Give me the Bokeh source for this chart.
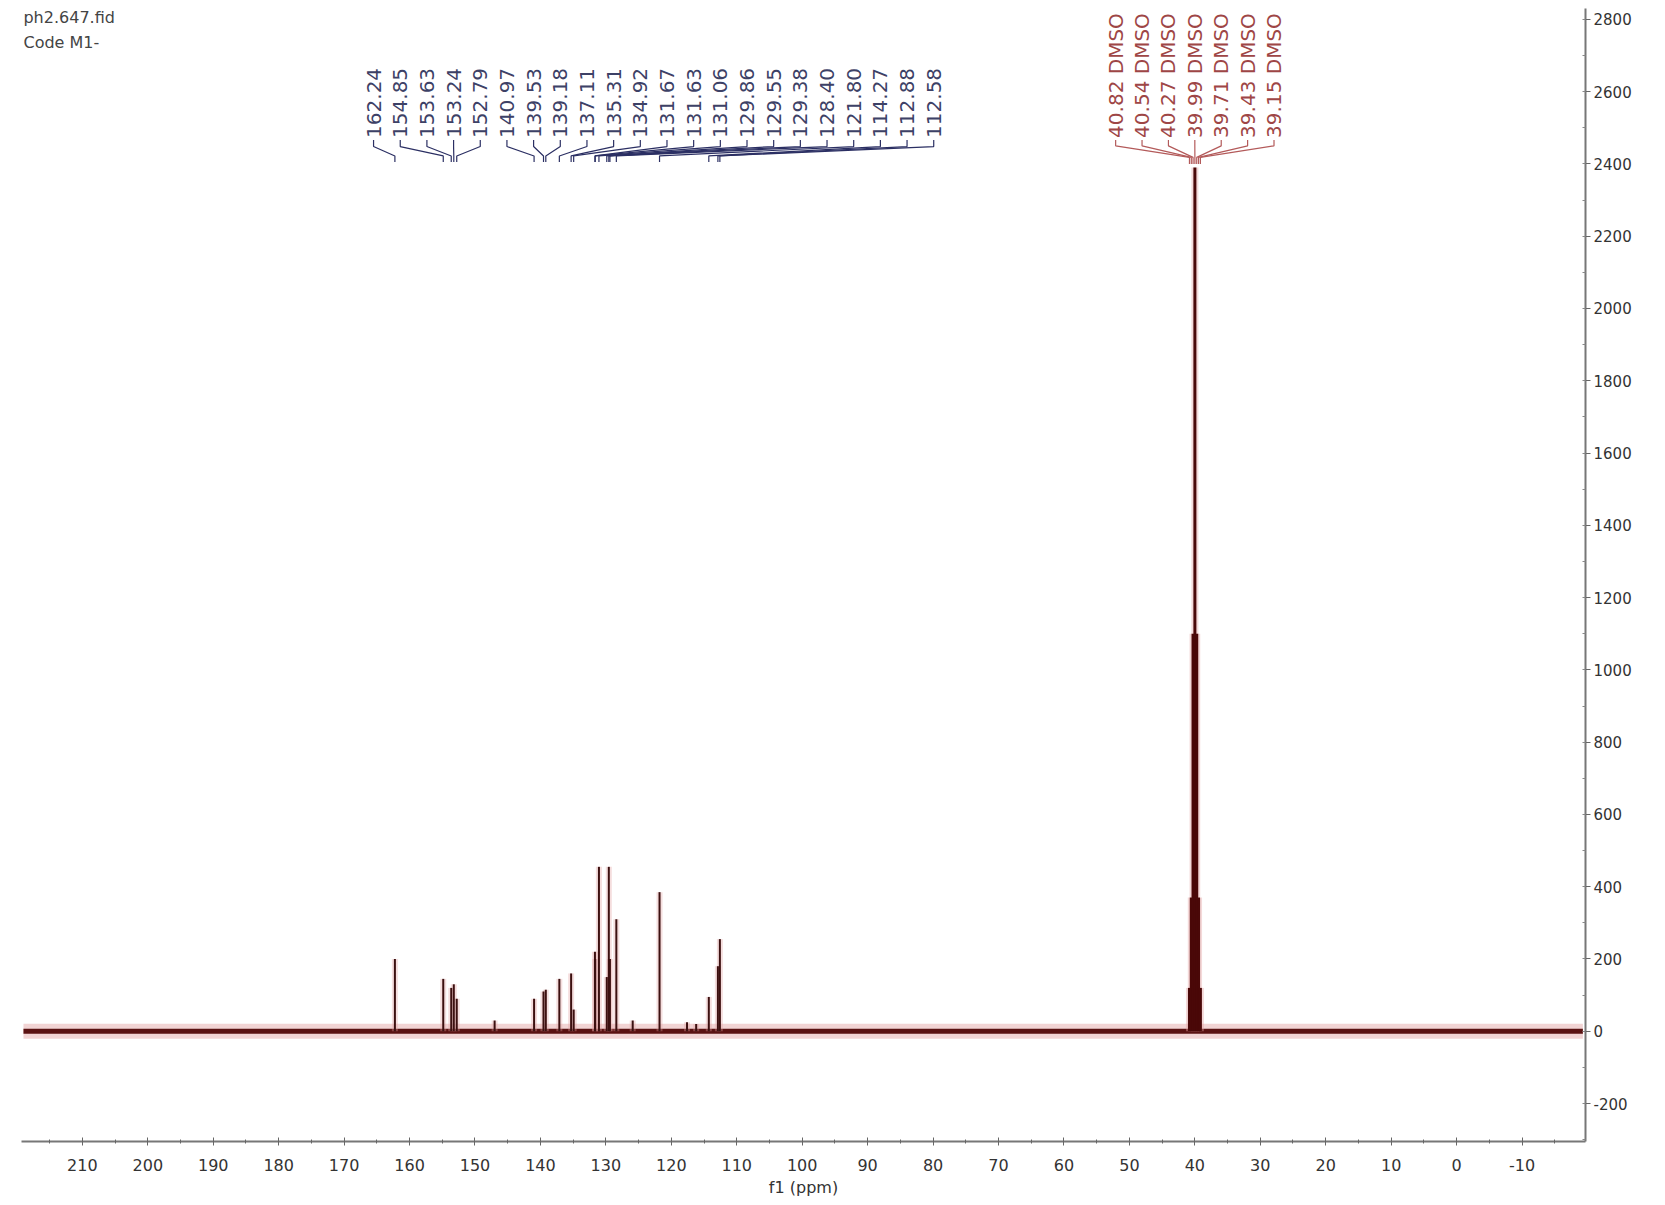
import numpy as np
from bokeh.plotting import figure
from bokeh.models import Range1d, SingleIntervalTicker, Label, ColumnDataSource, PrintfTickFormatter
from bokeh.core.properties import value
from bokeh.embed import file_html
from bokeh.resources import INLINE

# 13C spectrum (ppm, intensity)
arom_ppm = [162.24, 154.85, 153.63, 153.24, 152.79, 140.97, 139.53, 139.18,
            137.11, 135.31, 134.92, 131.67, 131.63, 131.06, 129.86, 129.55,
            129.38, 128.40, 121.80, 114.27, 112.88, 112.58]
arom_height = [200, 145, 120, 130, 90, 90, 110, 115,
               145, 160, 60, 220, 200, 455, 150, 455,
               200, 310, 385, 95, 180, 255]

# small unlabelled bumps
extra_ppm = [147.0, 125.9, 117.6, 116.2]
extra_height = [30, 30, 25, 20]

dmso_ppm = [40.82, 40.54, 40.27, 39.99, 39.71, 39.43, 39.15]
dmso_height = [120, 370, 1100, 2390, 1100, 370, 120]

baseline_ppm = [219.0, -19.3]
baseline_int = [0, 0]

FONT = "DejaVu Sans"

p = figure(width=1657, height=1201,
           x_range=Range1d(219.3, -19.7), y_range=Range1d(-305, 2830),
           y_axis_location="right", toolbar_location=None,
           output_backend="svg",
           min_border_left=21, min_border_right=72,
           min_border_top=8, min_border_bottom=60)
p.outline_line_color = None
p.xgrid.visible = False
p.ygrid.visible = False
p.background_fill_color = "white"

# spectrum: baseline band + peaks
p.line(baseline_ppm, baseline_int, line_color="#e3a0a0", line_width=15, line_alpha=0.45)
p.line(baseline_ppm, baseline_int, line_color="#5a1212", line_width=5)

peaks = ColumnDataSource(dict(x=arom_ppm + extra_ppm,
                              h=arom_height + extra_height,
                              z=[0] * (len(arom_ppm) + len(extra_ppm))))
p.segment(x0="x", y0="z", x1="x", y1="h", source=peaks,
          line_color="#e3a0a0", line_width=6, line_alpha=0.35)
p.segment(x0="x", y0="z", x1="x", y1="h", source=peaks,
          line_color="#3c1010", line_width=2)

dm = ColumnDataSource(dict(x=dmso_ppm, h=dmso_height, z=[0] * len(dmso_ppm)))
p.segment(x0="x", y0="z", x1="x", y1="h", source=dm,
          line_color="#e3a0a0", line_width=7, line_alpha=0.4)
p.segment(x0="x", y0="z", x1="x", y1="h", source=dm,
          line_color="#4a0808", line_width=3)

# peak labels with connectors
def peak_labels(ppms, texts, x_first, x_last, color, line_color, y_ends):
    slots = np.linspace(x_first, x_last, len(ppms))
    xs, ys = [], []
    for lx, px in zip(slots, ppms):
        xs.append([lx, lx, px, px])
        ys.append(y_ends)
    p.multi_line(xs, ys, line_color=line_color, line_width=1.2)
    p.text(x=list(slots), y=[2472] * len(ppms), text=texts, angle=np.pi / 2,
           text_align="left", text_baseline="middle",
           text_font=value(FONT), text_font_size="20px", text_color=color)

peak_labels(arom_ppm, ["%.2f" % v for v in arom_ppm], 165.5, 79.9,
            "#3d4166", "#2b2f63", [2466, 2448, 2422, 2405])
peak_labels(dmso_ppm, ["%.2f DMSO" % v for v in dmso_ppm], 52.1, 27.9,
            "#9e4646", "#b35a5a", [2466, 2450, 2418, 2400])

# file info in the corner
p.add_layout(Label(x=219.0, y=2805, text="ph2.647.fid", text_font=FONT,
                   text_font_size="16px", text_color="#444",
                   text_baseline="middle"))
p.add_layout(Label(x=219.0, y=2736, text="Code M1-", text_font=FONT,
                   text_font_size="16px", text_color="#444",
                   text_baseline="middle"))

# axes
xa = p.xaxis[0]
xa.ticker = SingleIntervalTicker(interval=10, num_minor_ticks=2)
xa.formatter = PrintfTickFormatter(format="%d")
xa.axis_label = "f1 (ppm)"
xa.axis_label_text_font = FONT
xa.axis_label_text_font_style = "normal"
xa.axis_label_text_font_size = "16px"
xa.axis_label_text_color = "#333"
xa.axis_label_standoff = 4
xa.major_label_text_font = FONT
xa.major_label_text_font_size = "16px"
xa.major_label_text_color = "#333"
xa.major_label_standoff = 13
xa.axis_line_color = "#777"
xa.axis_line_width = 2
xa.major_tick_line_color = "#666"
xa.major_tick_in = 4
xa.major_tick_out = 4
xa.minor_tick_line_color = "#666"
xa.minor_tick_in = 2
xa.minor_tick_out = 2

ya = p.yaxis[0]
ya.ticker = SingleIntervalTicker(interval=200, num_minor_ticks=2)
ya.formatter = PrintfTickFormatter(format="%d")
ya.major_label_text_font = FONT
ya.major_label_text_font_size = "15px"
ya.major_label_text_color = "#333"
ya.major_label_standoff = 3
ya.axis_line_color = "#777"
ya.axis_line_width = 2
ya.major_tick_line_color = "#666"
ya.major_tick_in = 0
ya.major_tick_out = 5
ya.minor_tick_line_color = "#888"
ya.minor_tick_in = 3
ya.minor_tick_out = 0

open("out.html", "w").write(file_html(p, INLINE))
